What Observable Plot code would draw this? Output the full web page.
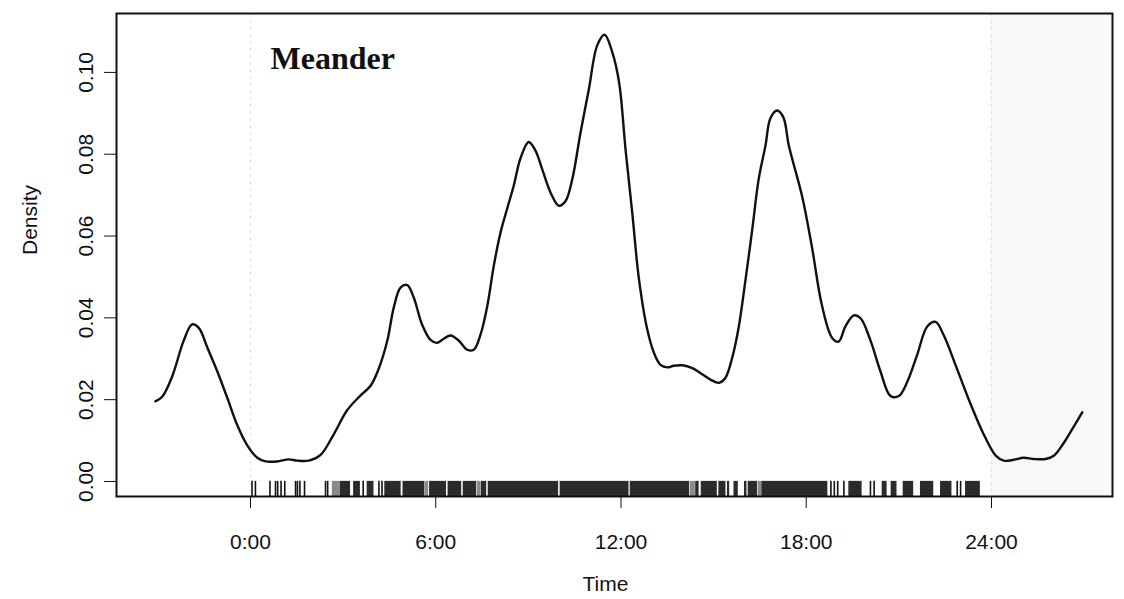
<!DOCTYPE html>
<html>
<head>
<meta charset="utf-8">
<script src="https://cdn.jsdelivr.net/npm/d3@7"></script>
<script src="https://cdn.jsdelivr.net/npm/@observablehq/plot@0.6"></script>
<style>
  html, body { margin: 0; padding: 0; background: #fff; }
  #chart { width: 1124px; height: 599px; overflow: hidden; }
</style>
</head>
<body>
<div id="chart"></div>
<script>
// Kernel density of activity time (hours)
const densityTime = [
  -3.08, -2.86, -2.54, -2.16, -1.89, -1.67, -1.40, -1.08, -0.75, -0.43, -0.11,
  0.22, 0.49, 0.86, 1.24, 1.51, 1.89, 2.27, 2.65, 3.13, 3.56, 3.89, 4.15, 4.43,
  4.64, 4.86, 5.08, 5.29, 5.56, 5.83, 6.05, 6.26, 6.48, 6.75, 7.02, 7.23, 7.45,
  7.67, 7.88, 8.10, 8.31, 8.53, 8.74, 9.01, 9.23, 9.45, 9.72, 9.99, 10.20, 10.42,
  10.69, 10.96, 11.23, 11.47, 11.72, 11.94, 12.15, 12.37, 12.58, 12.85, 13.07,
  13.28, 13.50, 13.71, 13.99, 14.31, 14.63, 14.90, 15.17, 15.38, 15.60, 15.81,
  16.03, 16.25, 16.46, 16.68, 16.84, 17.06, 17.26, 17.44, 17.87, 18.19, 18.51,
  18.84, 19.05, 19.27, 19.54, 19.76, 20.08, 20.40, 20.73, 21.00, 21.27, 21.59,
  21.92, 22.19, 22.45, 22.89, 23.32, 23.75, 24.13, 24.40, 24.72, 25.04, 25.37,
  25.75, 26.02, 26.34, 26.67, 26.94
];
const densityValue = [
  0.0196, 0.0207, 0.0256, 0.0345, 0.0384, 0.0375, 0.0328, 0.0270, 0.0204, 0.0138, 0.0089,
  0.0058, 0.0049, 0.0049, 0.0054, 0.0051, 0.0051, 0.0065, 0.0109, 0.0174, 0.0210, 0.0234, 0.0275, 0.0344,
  0.0425, 0.0474, 0.0480, 0.0449, 0.0383, 0.0346, 0.0339, 0.0349, 0.0357, 0.0344, 0.0322, 0.0322, 0.0359,
  0.0429, 0.0527, 0.0609, 0.0666, 0.0724, 0.0789, 0.0830, 0.0809, 0.0763, 0.0706, 0.0674, 0.0685, 0.0738,
  0.0853, 0.0959, 0.1066, 0.1092, 0.1049, 0.0975, 0.0810, 0.0653, 0.0496, 0.0372, 0.0314,
  0.0285, 0.0279, 0.0283, 0.0284, 0.0277, 0.0262, 0.0249, 0.0241, 0.0253, 0.0302, 0.0376,
  0.0491, 0.0615, 0.0739, 0.0821, 0.0888, 0.0907, 0.0890, 0.0820, 0.0696, 0.0571, 0.0430,
  0.0351, 0.0342, 0.0379, 0.0406, 0.0399, 0.0345, 0.0270, 0.0209, 0.0209, 0.0243, 0.0309,
  0.0379, 0.0390, 0.0358, 0.0274, 0.0190, 0.0115, 0.0064, 0.0051, 0.0053, 0.0058, 0.0055,
  0.0055, 0.0063, 0.0094, 0.0135, 0.0169
];

// Rug: single observation ticks (hours)
const rugTicks = [0.05, 0.16, 0.63, 0.81, 0.88, 0.99, 1.11, 1.46, 1.52, 1.60, 1.75,
  2.43, 2.50, 3.65, 4.16, 4.26, 18.80, 18.91, 19.02, 19.22, 20.08, 20.20, 22.89, 23.00];
// Rug: runs of overlapping ticks (start, end hours) that print as solid blocks
const rugBlockStart = [2.91, 3.34, 3.78, 4.35, 4.94, 5.80, 6.40, 6.89, 7.47, 7.70, 10.03, 12.30,
  14.42, 14.60, 15.17, 15.45, 15.66, 16.00, 16.12, 16.56, 19.38, 20.46, 20.75, 21.14, 21.70, 22.35, 23.16];
const rugBlockEnd = [3.24, 3.56, 4.00, 4.88, 5.65, 6.35, 6.84, 7.32, 7.65, 9.98, 12.26, 14.22,
  14.53, 15.12, 15.40, 15.52, 15.80, 16.08, 16.42, 18.70, 19.81, 20.62, 20.94, 21.48, 22.13, 22.72, 23.64];
// Rug: lighter (grey) runs
const rugGreyStart = [2.65, 5.67, 7.34, 14.24, 16.44];
const rugGreyEnd = [2.91, 5.77, 7.45, 14.41, 16.55];

const xTicks = [0, 6, 12, 18, 24];
const yTicks = [0, 0.02, 0.04, 0.06, 0.08, 0.10];
const title = "Meander";

const xDomain = [-4.34, 27.92];
const yDomain = [-0.00367, 0.1144];
const rugTop = yDomain[0] + 0.0037;

const curve = densityTime.map((t, i) => ({t, d: densityValue[i]}));
const blocks = rugBlockStart.map((s, i) => ({s, e: rugBlockEnd[i]}));
const greys = rugGreyStart.map((s, i) => ({s, e: rugGreyEnd[i]}));

const chart = Plot.plot({
  width: 1124,
  height: 599,
  marginLeft: 116,
  marginRight: 12,
  marginTop: 13,
  marginBottom: 103,
  style: {fontFamily: "'Liberation Sans', Arial, sans-serif", fontSize: "21px", color: "#111", background: "#fff"},
  x: {domain: xDomain, ticks: xTicks, tickFormat: d => `${d}:00`, tickSize: 12, tickPadding: 26, label: null},
  y: {domain: yDomain, ticks: yTicks, tickFormat: d3.format(".2f"), tickSize: 12, tickRotate: -90, tickPadding: 12, label: null},
  marks: [
    Plot.rect([{a: 24, b: xDomain[1]}], {x1: "a", x2: "b", y1: yDomain[0], y2: yDomain[1], fill: "#f8f8f8"}),
    Plot.ruleX([0, 24], {stroke: "#e2e2e2", strokeWidth: 1, strokeDasharray: "3,4"}),
    Plot.rect(greys, {x1: "s", x2: "e", y1: yDomain[0], y2: rugTop, fill: "#8a8a8a"}),
    Plot.rect(blocks, {x1: "s", x2: "e", y1: yDomain[0], y2: rugTop, fill: "#2b2b2b"}),
    Plot.ruleX(rugTicks, {y1: yDomain[0], y2: rugTop, stroke: "#111", strokeWidth: 1.6}),
    Plot.line(curve, {x: "t", y: "d", stroke: "#111", strokeWidth: 2.4, curve: "catmull-rom"}),
    Plot.frame({stroke: "#111", strokeWidth: 2}),
    Plot.text([title], {frameAnchor: "top-left", dx: 154, dy: 45, textAnchor: "start", lineAnchor: "middle",
      fontFamily: "'Liberation Serif', 'Times New Roman', serif", fontWeight: "bold", fontSize: 32, fill: "#111"}),
    Plot.text(["Density"], {frameAnchor: "left", rotate: -90, dx: -86, lineAnchor: "middle", fontSize: 21, fill: "#111"}),
    Plot.text(["Time"], {frameAnchor: "bottom", dx: -9, dy: 88, lineAnchor: "middle", fontSize: 21, fill: "#111"})
  ]
});
document.getElementById("chart").appendChild(chart);
</script>
</body>
</html>
